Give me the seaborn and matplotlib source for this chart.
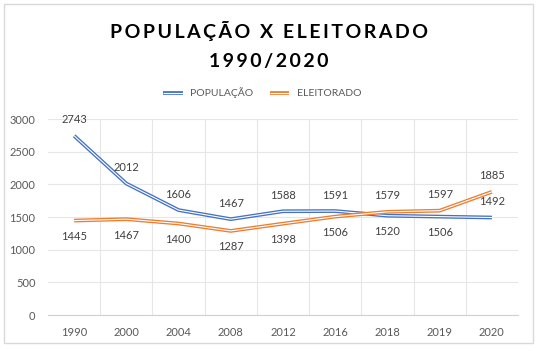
import matplotlib
matplotlib.use("Agg")
import matplotlib.pyplot as plt
import matplotlib.patheffects as pe
from matplotlib.patches import Rectangle
import seaborn as sns
import pandas as pd

anos = ["1990", "2000", "2004", "2008", "2012", "2016", "2018", "2019", "2020"]
populacao = [2743, 2012, 1606, 1467, 1588, 1591, 1520, 1506, 1492]
eleitorado = [1445, 1467, 1400, 1287, 1398, 1506, 1579, 1597, 1885]

# label above (+1) or below (-1) the point
pos_pop = [1, 1, 1, 1, 1, 1, -1, -1, 1]
pos_ele = [-1, -1, -1, -1, -1, -1, 1, 1, 1]

df = pd.concat([
    pd.DataFrame({"Ano": anos, "Valor": populacao, "Serie": "POPULAÇÃO"}),
    pd.DataFrame({"Ano": anos, "Valor": eleitorado, "Serie": "ELEITORADO"}),
])

sns.set_style("white")
plt.rcParams['font.family'] = ['Lato', 'DejaVu Sans']

W, H = 538, 351
fig = plt.figure(figsize=(W / 100, H / 100), dpi=100)
ax = fig.add_axes([48 / W, 1 - 315 / H, 470 / W, 196 / H])

cores = {"POPULAÇÃO": "#4472C4", "ELEITORADO": "#ED7D31"}
sns.lineplot(data=df, x="Ano", y="Valor", hue="Serie", palette=cores,
             sort=False, ax=ax, linewidth=0.8, legend=False)

# double (compound) line: coloured stroke with a white core
for ln, serie in zip(ax.get_lines(), ["POPULAÇÃO", "ELEITORADO"]):
    ln.set_color("white")
    ln.set_solid_capstyle("butt")
    ln.set_solid_joinstyle("miter")
    ln.set_path_effects([pe.Stroke(linewidth=2.7, foreground=cores[serie]), pe.Normal()])
    ln.set_label(serie)

for i in range(len(anos)):
    ax.annotate(str(populacao[i]), (i, populacao[i]), xytext=(0, 11.5 * pos_pop[i]),
                textcoords="offset points", ha="center", va="center",
                fontsize=8, color="#404040")
    ax.annotate(str(eleitorado[i]), (i, eleitorado[i]), xytext=(0, 11.5 * pos_ele[i]),
                textcoords="offset points", ha="center", va="center",
                fontsize=8, color="#404040")

ax.set_xlim(-0.5, len(anos) - 0.5)
ax.set_ylim(0, 3000)
ax.set_yticks(range(0, 3001, 500))
ax.set_xticks(range(len(anos)))
ax.set_xticklabels(anos)
ax.set_xticks([i + 0.5 for i in range(len(anos) - 1)], minor=True)
ax.grid(True, axis="y", color="#E6E6E6", linewidth=0.8)
ax.grid(True, axis="x", which="minor", color="#E6E6E6", linewidth=0.8)
ax.grid(False, axis="x", which="major")
ax.set_axisbelow(True)
ax.tick_params(axis="both", which="both", length=0, labelsize=8, labelcolor="#595959", pad=9)
for s in ["top", "right", "left"]:
    ax.spines[s].set_visible(False)
ax.spines["bottom"].set_color("#D0D0D0")
ax.set_xlabel("")
ax.set_ylabel("")

leg = fig.legend(handles=ax.get_lines(), loc="center", bbox_to_anchor=(262 / W, 1 - 93 / H),
                 ncol=2, frameon=False, fontsize=7.5, handlelength=1.9, columnspacing=1.6,
                 handletextpad=0.7)
for t in leg.get_texts():
    t.set_color("#595959")

esp = "\u2009"
fig.text(0.5, 1 - 31 / H, esp.join("POPULAÇÃO X ELEITORADO"), ha="center", va="center",
         fontsize=14, fontweight="bold", color="black")
fig.text(0.5, 1 - 61 / H, esp.join("1990/2020"), ha="center", va="center",
         fontsize=14, fontweight="bold", color="black")

fig.patches.append(Rectangle((4 / W, 1 - 343 / H), 529 / W, 339 / H, transform=fig.transFigure,
                             fill=False, edgecolor="#D9D9D9", linewidth=1))

fig.savefig("out.png", dpi=100, facecolor="white")
